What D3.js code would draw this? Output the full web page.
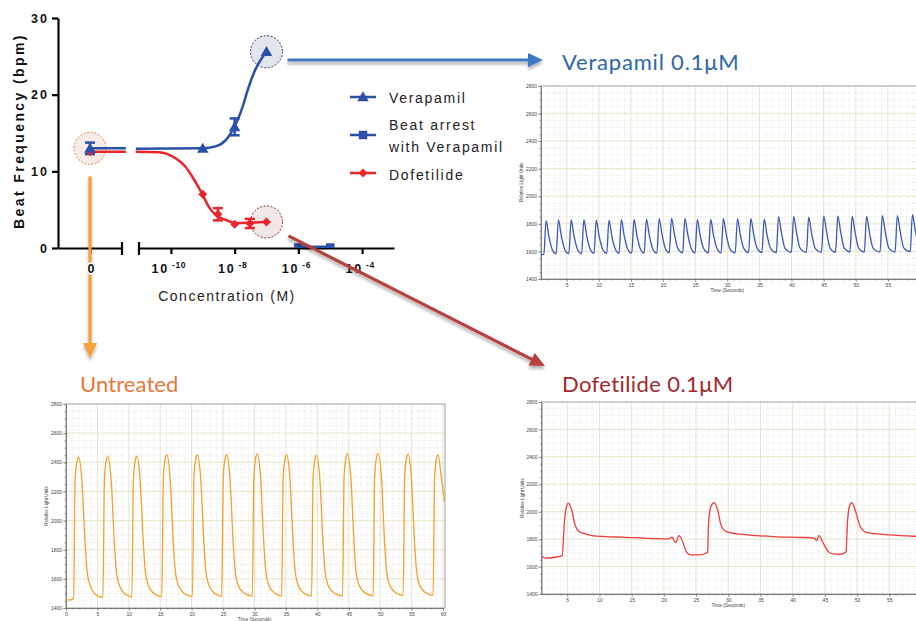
<!DOCTYPE html>
<html>
<head>
<meta charset="utf-8">
<script src="https://cdn.jsdelivr.net/npm/d3@7"></script>
<style>
  body { margin: 0; background: #fff; }
  svg { display: block; font-family: "Liberation Sans", Arial, sans-serif; }
</style>
</head>
<body>
<svg id="chart" width="916" height="621"></svg>
<script>
// ---- dose response (beat frequency, bpm) ----
const bpmTicks = [0, 10, 20, 30];
const concTicks = [1e-10, 1e-8, 1e-6, 1e-4];

const verapamilControl = 13.0;
const verapamilControlSem = 0.75;
const verapamilConc = [1e-9, 1e-8, 1e-7];
const verapamilBpm = [13.0, 15.8, 25.6];
const verapamilSem = [0, 1.1, 0];

const dofetilideControl = 12.55;
const dofetilideConc = [1e-9, 3e-9, 1e-8, 3e-8, 1e-7];
const dofetilideBpm = [7.0, 4.4, 3.1, 3.2, 3.4];
const dofetilideSem = [0, 0.8, 0, 0.6, 0];

const arrestConc = [1e-6, 1e-5];
const arrestBpm = [0, 0];

// fitted curves (log10 M, bpm)
const verapamilFitLog = [-11.1, -9.0, -8.6, -8.27, -8.07, -7.75, -7.59, -7.38, -7.12, -7.0];
const verapamilFitBpm = [12.95, 13.0, 13.25, 14.1, 15.3, 18.4, 20.6, 23.0, 24.95, 25.6];
const dofetilideFitLog = [-11.1, -10.38, -9.85, -9.54, -9.27, -9.01, -8.8, -8.59, -8.27, -7.96, -7.54, -7.0];
const dofetilideFitBpm = [12.55, 12.5, 11.7, 10.6, 8.9, 7.0, 5.3, 4.3, 3.65, 3.25, 3.3, 3.4];

// ---- calcium traces (time s, relative light units) ----
const rluTicks = [1400, 1600, 1800, 2000, 2200, 2400, 2600, 2800];

const verapamilTrace = [
  [1.0,1576],
  [1.44,1578],[1.79,1822],[2.24,1707],[2.79,1608],
  [3.36,1582],[3.71,1828],[4.16,1713],[4.71,1612],
  [5.34,1584],[5.69,1828],[6.14,1713],[6.69,1614],
  [7.32,1584],[7.67,1828],[8.12,1713],[8.67,1614],
  [9.25,1586],[9.60,1826],[10.05,1711],[10.60,1616],
  [11.23,1586],[11.58,1825],[12.03,1710],[12.58,1616],
  [13.15,1586],[13.50,1830],[13.95,1715],[14.50,1616],
  [15.13,1588],[15.48,1832],[15.93,1717],[16.48,1618],
  [17.06,1588],[17.41,1832],[17.86,1717],[18.41,1618],
  [19.04,1588],[19.39,1838],[19.84,1723],[20.39,1618],
  [20.97,1590],[21.32,1840],[21.77,1725],[22.32,1620],
  [23.05,1590],[23.40,1838],[23.85,1723],[24.40,1620],
  [24.98,1590],[25.33,1830],[25.78,1715],[26.33,1620],
  [27.06,1590],[27.41,1832],[27.86,1717],[28.41,1620],
  [29.04,1590],[29.39,1838],[29.84,1723],[30.39,1620],
  [31.23,1590],[31.58,1836],[32.03,1721],[32.58,1620],
  [33.31,1592],[33.66,1838],[34.11,1723],[34.66,1622],
  [35.39,1592],[35.74,1834],[36.19,1719],[36.74,1622],
  [37.63,1592],[37.98,1852],[38.43,1737],[38.98,1622],
  [39.98,1594],[40.33,1852],[40.78,1737],[41.33,1624],
  [42.32,1594],[42.67,1848],[43.12,1733],[43.67,1624],
  [44.66,1594],[45.01,1856],[45.46,1741],[46.01,1624],
  [46.85,1594],[47.20,1856],[47.65,1741],[48.20,1624],
  [49.09,1596],[49.44,1854],[49.89,1739],[50.44,1626],
  [51.33,1596],[51.68,1854],[52.13,1739],[52.68,1626],
  [53.78,1596],[54.13,1860],[54.58,1745],[55.13,1626],
  [56.12,1596],[56.47,1860],[56.92,1745],[57.47,1626],
  [58.47,1598],[58.82,1866],[59.27,1751],[59.55,1690]
];

const untreatedTrace = [
  [0,1458],[0.6,1455],
  [1.21,1466],[1.46,2290],[1.76,2410],[2.01,2435],[2.51,2285],[3.06,1830],[3.36,1650],[3.81,1560],[4.51,1500],[5.31,1478],
  [5.87,1472],[6.12,2290],[6.42,2413],[6.67,2438],[7.17,2288],[7.72,1830],[8.02,1650],[8.47,1560],[9.17,1505],[9.97,1482],
  [10.48,1475],[10.73,2290],[11.03,2415],[11.28,2440],[11.78,2290],[12.33,1830],[12.63,1650],[13.08,1560],[13.78,1508],[14.58,1485],
  [15.25,1478],[15.50,2300],[15.80,2427],[16.05,2452],[16.55,2302],[17.10,1830],[17.40,1650],[17.85,1560],[18.55,1510],[19.35,1488],
  [20.12,1480],[20.37,2300],[20.67,2425],[20.92,2450],[21.42,2300],[21.97,1830],[22.27,1650],[22.72,1560],[23.42,1510],[24.22,1488],
  [24.78,1480],[25.03,2300],[25.33,2427],[25.58,2452],[26.08,2302],[26.63,1830],[26.93,1650],[27.38,1560],[28.08,1512],[28.88,1490],
  [29.65,1482],[29.90,2300],[30.20,2433],[30.45,2458],[30.95,2308],[31.50,1830],[31.80,1650],[32.25,1560],[32.95,1512],[33.75,1490],
  [34.32,1482],[34.57,2300],[34.87,2425],[35.12,2450],[35.62,2300],[36.17,1830],[36.47,1650],[36.92,1560],[37.62,1512],[38.42,1490],
  [39.08,1482],[39.33,2300],[39.63,2423],[39.88,2448],[40.38,2298],[40.93,1830],[41.23,1650],[41.68,1560],[42.38,1514],[43.18,1492],
  [44.01,1484],[44.26,2300],[44.56,2435],[44.81,2460],[45.31,2310],[45.86,1830],[46.16,1650],[46.61,1560],[47.31,1515],[48.11,1493],
  [48.88,1485],[49.13,2300],[49.43,2435],[49.68,2460],[50.18,2310],[50.73,1830],[51.03,1650],[51.48,1560],[52.18,1515],[52.98,1493],
  [53.65,1485],[53.90,2300],[54.20,2430],[54.45,2455],[54.95,2305],[55.50,1830],[55.80,1650],[56.25,1560],[56.95,1515],[57.75,1493],
  [58.42,1486],[58.67,2300],[58.97,2427],[59.22,2452],[59.72,2302],[60.25,2130]
];

const dofetilideTrace = [
  [1.00,1680],[1.52,1661],[3.08,1668],[4.23,1680],[4.54,1916],[4.91,2043],[5.17,2063],[5.69,2014],
  [6.21,1904],[6.83,1856],[7.77,1838],[8.81,1826],[10.90,1819],[13.50,1814],[16.10,1809],[18.71,1804],
  [20.79,1802],[21.26,1814],[21.57,1790],[21.83,1775],[22.35,1826],[23.66,1697],[24.18,1685],[25.48,1685],
  [26.52,1697],[26.78,1705],[26.94,1916],[27.30,2038],[27.82,2067],[28.34,2014],[28.86,1904],[29.65,1856],
  [31.73,1836],[34.33,1826],[36.94,1819],[39.54,1814],[42.15,1812],[43.45,1804],[43.71,1790],[44.07,1826],
  [44.75,1770],[45.53,1709],[46.31,1692],[47.35,1690],[48.14,1702],[48.29,1710],[48.50,1916],[48.81,2038],
  [49.18,2067],[49.85,1990],[50.48,1892],[51.52,1848],[53.60,1836],[55.69,1829],[57.77,1824],[59.49,1819]
];

const blue = "#2a50a8", red = "#e8262c";

const svg = d3.select("#chart");
const defs = svg.append("defs");
defs.append("filter").attr("id", "shadow")
    .attr("x", "-10%").attr("y", "-30%").attr("width", "120%").attr("height", "180%")
  .append("feDropShadow")
    .attr("dx", 0).attr("dy", 3).attr("stdDeviation", 1.8)
    .attr("flood-color", "#000").attr("flood-opacity", 0.3);

// ================= trace panels =================
function drawPanel(p) {
  const x = d3.scaleLinear().domain(p.xDomain).range([p.left, p.right]);
  const y = d3.scaleLinear().domain([1400, 2800]).range([p.bottom, p.top]);
  const g = svg.append("g");
  const visRight = Math.min(p.frameRight, 916);

  g.append("rect")
    .attr("x", p.left).attr("y", p.top)
    .attr("width", p.frameRight - p.left).attr("height", p.bottom - p.top)
    .attr("fill", "#fff");

  const secs = d3.range(Math.ceil(p.xDomain[0]), p.xDomain[1] + 0.01, 1).filter(t => x(t) < visRight);
  const minorY = d3.range(1450, 2800, 50).filter(v => v % 200 !== 0);

  g.selectAll(".vmin").data(secs.filter(t => t % 5 !== 0)).join("line")
    .attr("x1", d => x(d)).attr("x2", d => x(d)).attr("y1", p.top).attr("y2", p.bottom)
    .attr("stroke", "#cfcfc4").attr("stroke-width", 0.5).attr("stroke-dasharray", "1,1.6");
  g.selectAll(".hmin").data(minorY).join("line")
    .attr("x1", p.left).attr("x2", visRight).attr("y1", d => y(d)).attr("y2", d => y(d))
    .attr("stroke", "#cfcfc4").attr("stroke-width", 0.5).attr("stroke-dasharray", "1,1.6");
  g.selectAll(".vmaj").data(secs.filter(t => t % 5 === 0)).join("line")
    .attr("x1", d => x(d)).attr("x2", d => x(d)).attr("y1", p.top).attr("y2", p.bottom)
    .attr("stroke", "#e4e2c6").attr("stroke-width", 0.9);
  g.selectAll(".hmaj").data(rluTicks.slice(1, -1)).join("line")
    .attr("x1", p.left).attr("x2", visRight).attr("y1", d => y(d)).attr("y2", d => y(d))
    .attr("stroke", "#e4e2c6").attr("stroke-width", 0.9);

  g.append("rect")
    .attr("x", p.left).attr("y", p.top)
    .attr("width", p.frameRight - p.left).attr("height", p.bottom - p.top)
    .attr("fill", "none").attr("stroke", "#8a8a8a").attr("stroke-width", 0.8);

  // axes
  g.append("g").attr("transform", `translate(${p.left},0)`)
    .call(d3.axisLeft(y).tickValues(rluTicks).tickFormat(d3.format("d"))
      .tickSize(3).tickPadding(1).tickSizeOuter(0));
  g.append("g").attr("transform", `translate(${p.left},0)`)
    .call(d3.axisLeft(y).tickValues(d3.range(1400, 2801, 50)).tickSize(1.5).tickFormat("").tickSizeOuter(0))
    .select(".domain").remove();
  g.append("g").attr("transform", `translate(0,${p.bottom})`)
    .call(d3.axisBottom(x).tickValues(p.xTicks).tickFormat(d3.format("d"))
      .tickSize(3).tickPadding(1).tickSizeOuter(0));
  g.append("g").attr("transform", `translate(0,${p.bottom})`)
    .call(d3.axisBottom(x).tickValues(secs).tickSize(1.5).tickFormat("").tickSizeOuter(0))
    .select(".domain").remove();
  g.selectAll(".domain").attr("stroke", "#666").attr("stroke-width", 0.8);
  g.selectAll(".tick line").attr("stroke", "#666").attr("stroke-width", 0.6);
  g.selectAll(".tick text").attr("font-size", 5).attr("fill", "#444")
    .attr("font-family", "Liberation Sans, Arial, sans-serif");

  g.append("text")
    .attr("transform", `translate(${p.left - 18},${(p.top + p.bottom) / 2}) rotate(-90)`)
    .attr("text-anchor", "middle").attr("font-size", 4.6).attr("fill", "#444")
    .text("Relative Light Units");
  g.append("text")
    .attr("x", x(30)).attr("y", p.bottom + 13)
    .attr("text-anchor", "middle").attr("font-size", 4.8).attr("fill", "#444")
    .text("Time (Seconds)");

  const clipId = "clip-" + p.id;
  defs.append("clipPath").attr("id", clipId).append("rect")
    .attr("x", p.left).attr("y", p.top - 2).attr("width", visRight - p.left).attr("height", p.bottom - p.top + 2);

  g.append("path")
    .datum(p.data)
    .attr("clip-path", `url(#${clipId})`)
    .attr("fill", "none").attr("stroke", p.color).attr("stroke-width", 1.3)
    .attr("stroke-linejoin", "round")
    .attr("d", d3.line().x(d => x(d[0])).y(d => y(d[1])).curve(d3.curveMonotoneX));

  svg.append("text")
    .attr("x", p.titleX).attr("y", p.titleY)
    .attr("font-family", "Lato, 'Open Sans', sans-serif").attr("font-size", 22)
    .attr("letter-spacing", p.titleSpacing + "px")
    .attr("fill", p.titleColor)
    .text(p.title);
}

drawPanel({
  id: "vera", left: 541, right: 920, top: 86, bottom: 279, frameRight: 925,
  xDomain: [1, 60], xTicks: d3.range(5, 56, 5), data: verapamilTrace, color: "#3a58b5",
  title: "Verapamil 0.1\u03bcM", titleX: 562, titleY: 70, titleColor: "#2e66a6", titleSpacing: 0.8
});
drawPanel({
  id: "untr", left: 66, right: 443, top: 404, bottom: 608, frameRight: 445,
  xDomain: [0, 60], xTicks: d3.range(0, 61, 5), data: untreatedTrace, color: "#f4a02e",
  title: "Untreated", titleX: 80, titleY: 392, titleColor: "#e8773a", titleSpacing: 0.1
});
drawPanel({
  id: "dofe", left: 541.5, right: 921.5, top: 402, bottom: 594, frameRight: 925,
  xDomain: [1, 60], xTicks: d3.range(5, 56, 5), data: dofetilideTrace, color: "#ee3b3b",
  title: "Dofetilide 0.1\u03bcM", titleX: 562, titleY: 392, titleColor: "#a2282c", titleSpacing: 0.4
});

// ================= dose-response chart =================
const yBpm = d3.scaleLinear().domain([0, 30]).range([248, 18]);
const xZero = d3.scaleLinear().domain([-1, 1]).range([58, 122]);
const xConc = d3.scaleLog().domain([1e-11, 1e-3]).range([139, 394]);
const lx = l => xConc(Math.pow(10, l));

const main = svg.append("g");
defs.append("clipPath").attr("id", "mainClip").append("rect")
  .attr("x", 56).attr("y", 0).attr("width", 350).attr("height", yBpm(0));

const boldFont = "Liberation Sans, Arial, sans-serif";

// highlight circles
const hl = [
  {cx: xZero(0), cy: yBpm(verapamilControl), stroke: "#e8823a", fill: "#f6ebe6"},
  {cx: xConc(1e-7), cy: yBpm(verapamilBpm[2]), stroke: "#28365e", fill: "#e3e5ec"},
  {cx: xConc(1e-7), cy: yBpm(dofetilideBpm[4]), stroke: "#8a2a2a", fill: "#f1e7e6"}
];
main.selectAll(".hl").data(hl).join("circle")
  .attr("cx", d => d.cx).attr("cy", d => d.cy).attr("r", 16)
  .attr("fill", d => d.fill).attr("stroke", d => d.stroke)
  .attr("stroke-width", 1).attr("stroke-dasharray", "2,1.6");

// y axis
const yAx = main.append("g").attr("transform", `translate(${xZero(-1)},0)`)
  .call(d3.axisLeft(yBpm).tickValues(bpmTicks).tickSize(6).tickPadding(4).tickSizeOuter(0));
yAx.selectAll(".tick text")
  .attr("font-size", 12.5).attr("font-weight", "bold").attr("letter-spacing", "2px")
  .attr("fill", "#111").attr("font-family", boldFont).attr("x", -9);

// x axis: control segment and concentration segment
main.append("g").attr("transform", `translate(0,${yBpm(0)})`)
  .call(d3.axisBottom(xZero).tickValues([0]).tickSize(6).tickFormat("").tickSizeOuter(0));
main.append("g").attr("transform", `translate(0,${yBpm(0)})`)
  .call(d3.axisBottom(xConc).tickValues(concTicks).tickSize(6).tickFormat("").tickSizeOuter(0));
main.selectAll(".domain, .tick line").attr("stroke", "#000").attr("stroke-width", 2.2);

// axis break marks
main.selectAll(".brk").data([xZero(1), xConc(1e-11)]).join("line")
  .attr("x1", d => d).attr("x2", d => d)
  .attr("y1", yBpm(0) - 6).attr("y2", yBpm(0) + 7)
  .attr("stroke", "#000").attr("stroke-width", 2.2);

const expLab = main.selectAll(".expl").data(concTicks).join("text")
  .attr("x", d => xConc(d) - 2).attr("y", 273).attr("text-anchor", "middle")
  .attr("font-size", 12.5).attr("font-weight", "bold").attr("font-family", boldFont)
  .attr("fill", "#111").attr("letter-spacing", "1.8px");
expLab.append("tspan").text("10");
expLab.append("tspan").attr("dy", -5).attr("font-size", 8.5).attr("letter-spacing", "0.6px")
  .text(d => " " + Math.round(Math.log10(d)));

main.append("text")
  .attr("x", 227).attr("y", 301).attr("text-anchor", "middle")
  .attr("font-size", 14).attr("letter-spacing", "1.5px").attr("fill", "#222")
  .attr("font-family", boldFont)
  .text("Concentration (M)");
main.append("text")
  .attr("transform", `translate(24,${(yBpm(0) + yBpm(30)) / 2 - 2}) rotate(-90)`)
  .attr("text-anchor", "middle")
  .attr("font-size", 14).attr("font-weight", "bold").attr("letter-spacing", "2.4px")
  .attr("fill", "#111").attr("font-family", boldFont)
  .text("Beat Frequency (bpm)");

// fitted curves
const fitLine = d3.line().x(d => lx(d[0])).y(d => yBpm(d[1])).curve(d3.curveMonotoneX);
const plot = main.append("g").attr("clip-path", "url(#mainClip)");

plot.append("line")
  .attr("x1", xZero(0)).attr("x2", xZero(1.12))
  .attr("y1", yBpm(dofetilideControl)).attr("y2", yBpm(dofetilideControl))
  .attr("stroke", red).attr("stroke-width", 2.5);
plot.append("line")
  .attr("x1", xZero(0)).attr("x2", xZero(1.12))
  .attr("y1", yBpm(verapamilControl)).attr("y2", yBpm(verapamilControl))
  .attr("stroke", blue).attr("stroke-width", 2.5);

plot.append("path").datum(d3.zip(dofetilideFitLog, dofetilideFitBpm))
  .attr("fill", "none").attr("stroke", red).attr("stroke-width", 2.5).attr("d", fitLine);
plot.append("path").datum(d3.zip(verapamilFitLog, verapamilFitBpm))
  .attr("fill", "none").attr("stroke", blue).attr("stroke-width", 2.5).attr("d", fitLine);
plot.append("path").datum(d3.zip(arrestConc, arrestBpm))
  .attr("fill", "none").attr("stroke", blue).attr("stroke-width", 3)
  .attr("d", d3.line().x(d => xConc(d[0])).y(d => yBpm(d[1]) - 1));

// error bars
function errBars(conc, mean, sem, color, xf) {
  const rows = conc.map((c, i) => ({x: xf(c), m: mean[i], s: sem[i]})).filter(r => r.s > 0);
  const eg = plot.append("g").attr("stroke", color).attr("stroke-width", 2.5);
  rows.forEach(r => {
    eg.append("line").attr("x1", r.x).attr("x2", r.x).attr("y1", yBpm(r.m - r.s)).attr("y2", yBpm(r.m + r.s));
    [r.m - r.s, r.m + r.s].forEach(v =>
      eg.append("line").attr("x1", r.x - 5).attr("x2", r.x + 5).attr("y1", yBpm(v)).attr("y2", yBpm(v)));
  });
}
errBars(dofetilideConc, dofetilideBpm, dofetilideSem, red, xConc);
errBars(verapamilConc, verapamilBpm, verapamilSem, blue, xConc);
errBars([0], [verapamilControl], [verapamilControlSem], blue, xZero);

// markers
const tri = d3.symbol().type(d3.symbolTriangle).size(58)();
const sq = d3.symbol().type(d3.symbolSquare).size(40)();
const sqBig = d3.symbol().type(d3.symbolSquare).size(72)();

plot.append("path").attr("d", sq).attr("fill", red)
  .attr("transform", `translate(${xZero(0)},${yBpm(dofetilideControl)}) rotate(45)`);
plot.selectAll(".dofm").data(d3.zip(dofetilideConc, dofetilideBpm)).join("path")
  .attr("d", sq).attr("fill", red)
  .attr("transform", d => `translate(${xConc(d[0])},${yBpm(d[1])}) rotate(45)`);
plot.append("path").attr("d", tri).attr("fill", blue)
  .attr("transform", `translate(${xZero(0)},${yBpm(verapamilControl) + 1})`);
plot.selectAll(".veram").data(d3.zip(verapamilConc, verapamilBpm)).join("path")
  .attr("d", tri).attr("fill", blue)
  .attr("transform", d => `translate(${xConc(d[0])},${yBpm(d[1]) + 1})`);
plot.selectAll(".arrm").data(d3.zip(arrestConc, arrestBpm)).join("path")
  .attr("d", sqBig).attr("fill", blue)
  .attr("transform", d => `translate(${xConc(d[0])},${yBpm(d[1]) - 0.5})`);

// legend
const legendRows = [
  {y: 97, color: blue, sym: tri, rot: 0, dy: 1, lines: ["Verapamil"], ty: [103]},
  {y: 135, color: blue, sym: sqBig, rot: 0, dy: 0, lines: ["Beat arrest", "with Verapamil"], ty: [129.5, 152]},
  {y: 173, color: red, sym: sq, rot: 45, dy: 0, lines: ["Dofetilide"], ty: [180]}
];
const lg = main.append("g");
legendRows.forEach(r => {
  lg.append("line").attr("x1", 350).attr("x2", 376).attr("y1", r.y).attr("y2", r.y)
    .attr("stroke", r.color).attr("stroke-width", 2.5);
  lg.append("path").attr("d", r.sym).attr("fill", r.color)
    .attr("transform", `translate(363,${r.y + r.dy}) rotate(${r.rot})`);
  r.lines.forEach((t, i) =>
    lg.append("text").attr("x", 389).attr("y", r.ty[i])
      .attr("font-size", 14).attr("letter-spacing", "1.7px").attr("fill", "#222")
      .attr("font-family", boldFont).text(t));
});

// ================= arrows =================
function arrow(x1, y1, x2, y2, color) {
  const a = Math.atan2(y2 - y1, x2 - x1), c = Math.cos(a), s = Math.sin(a);
  const L = 15, W = 7;
  const g = svg.append("g").attr("filter", "url(#shadow)");
  g.append("line").attr("x1", x1).attr("y1", y1)
    .attr("x2", x2 - (L - 2) * c).attr("y2", y2 - (L - 2) * s)
    .attr("stroke", color).attr("stroke-width", 3.2);
  g.append("path").attr("fill", color)
    .attr("d", `M${x2},${y2}L${x2 - L * c - W * s},${y2 - L * s + W * c}L${x2 - L * c + W * s},${y2 - L * s - W * c}Z`);
}
arrow(xConc(1e-7) + 21, 60, 543, 60, "#3d79c2");
arrow(xZero(0), yBpm(verapamilControl) + 28, xZero(0), 358, "#f5a03a");
arrow(xConc(1e-7) + 22, yBpm(dofetilideBpm[4]) + 14, 545, 366, "#b8403e");

// control tick label sits on top of the orange arrow
svg.append("text")
  .attr("x", xZero(0) + 1).attr("y", 273).attr("text-anchor", "middle")
  .attr("font-size", 12.5).attr("font-weight", "bold").attr("font-family", boldFont)
  .attr("fill", "#111").attr("stroke", "#fff").attr("stroke-width", 3)
  .attr("paint-order", "stroke").text("0");
</script>
</body>
</html>
